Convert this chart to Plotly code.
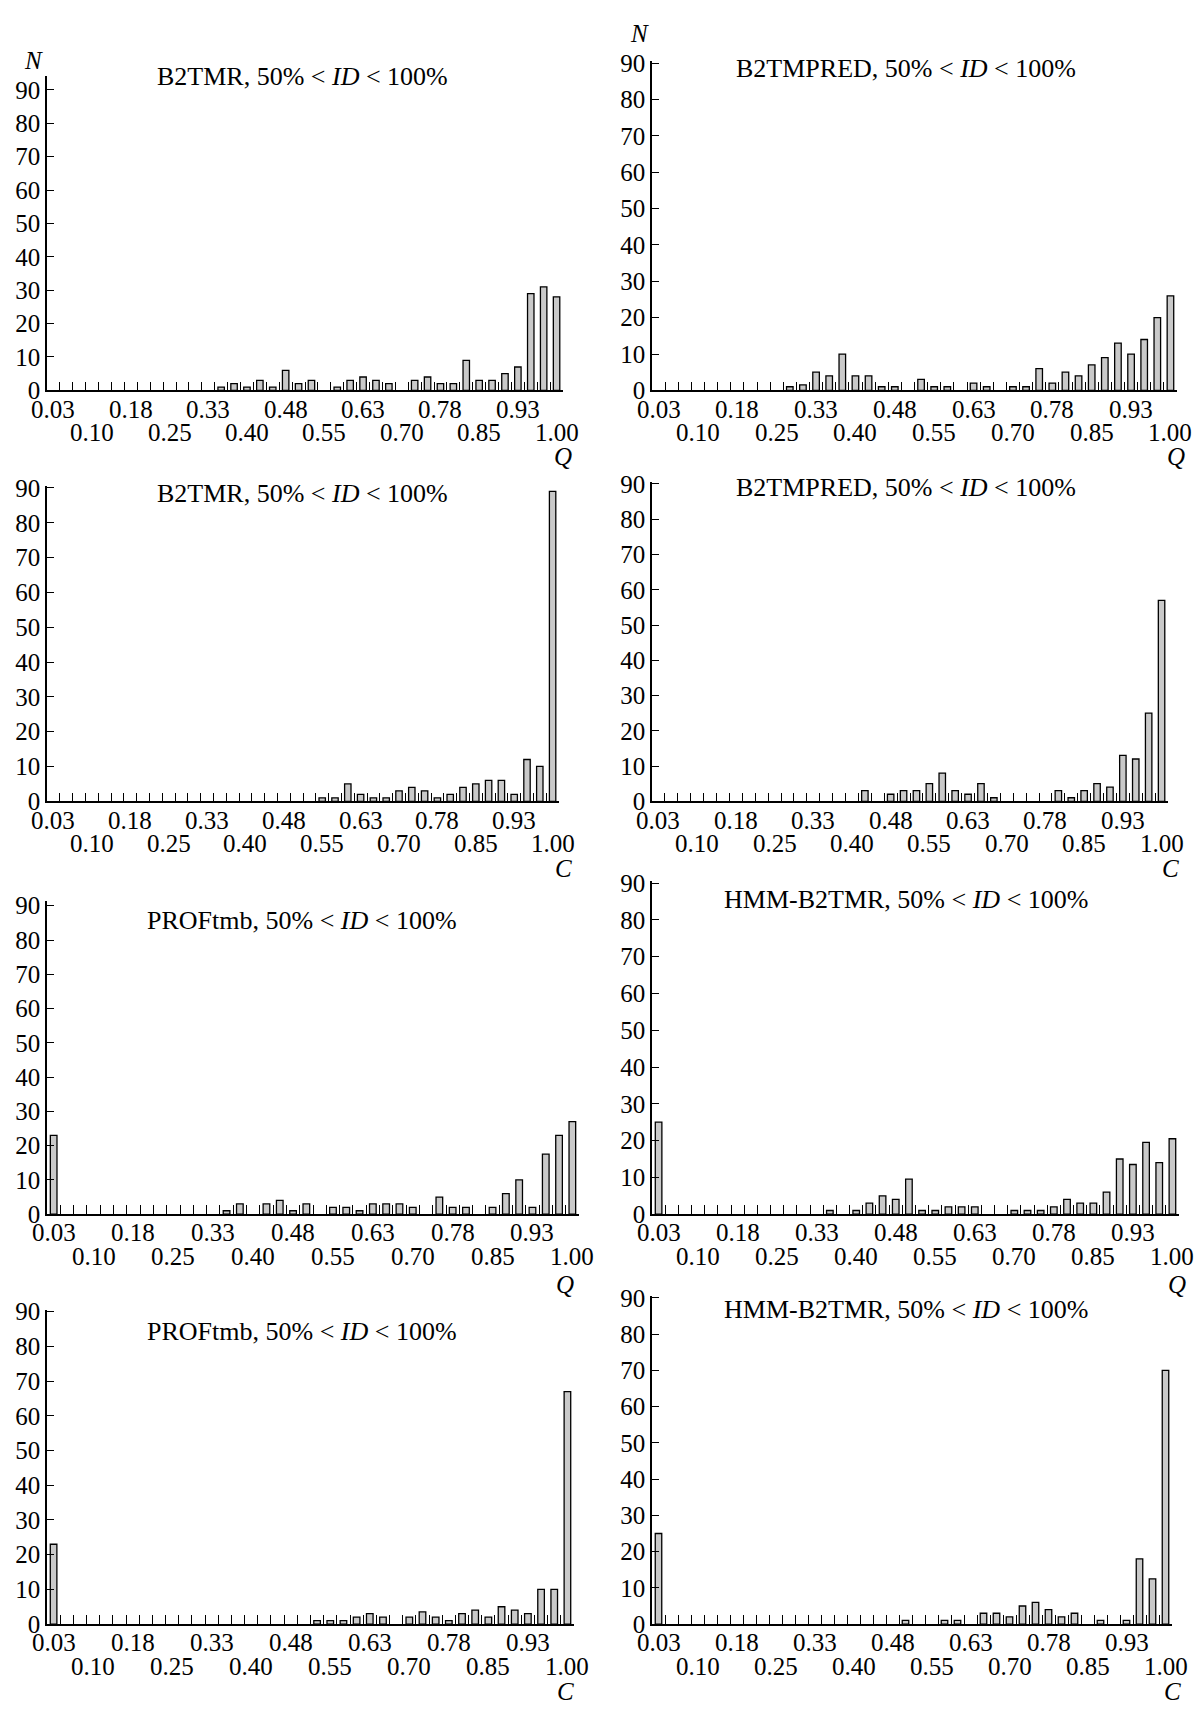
import plotly.graph_objects as go

FONT = "Liberation Serif"
W, H = 1196, 1712

# ---------------- data ----------------
n_bins = 40
bin_centers = [round(0.03 + 0.025 * k, 4) for k in range(n_bins)]
upper_tick_labels = ["0.03", "0.18", "0.33", "0.48", "0.63", "0.78", "0.93"]
lower_tick_labels = ["0.10", "0.25", "0.40", "0.55", "0.70", "0.85", "1.00"]
y_tick_values = [0, 10, 20, 30, 40, 50, 60, 70, 80, 90]

b2tmr_q = [0, 0, 0, 0, 0, 0, 0, 0, 0, 0,
           0, 0, 0, 1, 2, 1, 3, 1, 6, 2,
           3, 0, 1, 3, 4, 3, 2, 0, 3, 4,
           2, 2, 9, 3, 3, 5, 7, 29, 31, 28]
b2tmpred_q = [0, 0, 0, 0, 0, 0, 0, 0, 0, 0,
              1, 1.5, 5, 4, 10, 4, 4, 1, 1, 0,
              3, 1, 1, 0, 2, 1, 0, 1, 1, 6,
              2, 5, 4, 7, 9, 13, 10, 14, 20, 26]
b2tmr_c = [0, 0, 0, 0, 0, 0, 0, 0, 0, 0,
           0, 0, 0, 0, 0, 0, 0, 0, 0, 0,
           0, 1, 1, 5, 2, 1, 1, 3, 4, 3,
           1, 2, 4, 5, 6, 6, 2, 12, 10, 89]
b2tmpred_c = [0, 0, 0, 0, 0, 0, 0, 0, 0, 0,
              0, 0, 0, 0, 0, 0, 3, 0, 2, 3,
              3, 5, 8, 3, 2, 5, 1, 0, 0, 0,
              0, 3, 1, 3, 5, 4, 13, 12, 25, 57]
proftmb_q = [23, 0, 0, 0, 0, 0, 0, 0, 0, 0,
             0, 0, 0, 1, 3, 0, 3, 4, 1, 3,
             0, 2, 2, 1, 3, 3, 3, 2, 0, 5,
             2, 2, 0, 2, 6, 10, 2, 17.5, 23, 27]
hmm_b2tmr_q = [25, 0, 0, 0, 0, 0, 0, 0, 0, 0,
               0, 0, 0, 1, 0, 1, 3, 5, 4, 9.5,
               1, 1, 2, 2, 2, 0, 0, 1, 1, 1,
               2, 4, 3, 3, 6, 15, 13.5, 19.5, 14, 20.5]
proftmb_c = [23, 0, 0, 0, 0, 0, 0, 0, 0, 0,
             0, 0, 0, 0, 0, 0, 0, 0, 0, 0,
             1, 1, 1, 2, 3, 2, 0, 2, 3.5, 2,
             1, 3, 4, 2, 5, 4, 3, 10, 10, 67]
hmm_b2tmr_c = [25, 0, 0, 0, 0, 0, 0, 0, 0, 0,
               0, 0, 0, 0, 0, 0, 0, 0, 0, 1,
               0, 0, 1, 1, 0, 3, 3, 2, 5, 6,
               4, 2, 3, 0, 1, 0, 1, 18, 12.5, 70]

titles = ["B2TMR, 50% &lt; <i>ID</i> &lt; 100%", "B2TMPRED, 50% &lt; <i>ID</i> &lt; 100%",
          "B2TMR, 50% &lt; <i>ID</i> &lt; 100%", "B2TMPRED, 50% &lt; <i>ID</i> &lt; 100%",
          "PROFtmb, 50% &lt; <i>ID</i> &lt; 100%", "HMM-B2TMR, 50% &lt; <i>ID</i> &lt; 100%",
          "PROFtmb, 50% &lt; <i>ID</i> &lt; 100%", "HMM-B2TMR, 50% &lt; <i>ID</i> &lt; 100%"]
series = [b2tmr_q, b2tmpred_q, b2tmr_c, b2tmpred_c,
          proftmb_q, hmm_b2tmr_q, proftmb_c, hmm_b2tmr_c]
x_names = ["Q", "Q", "C", "C", "Q", "Q", "C", "C"]

# ---------------- layout geometry (pixels) ----------------
# (x_left, x_right, y_at_90, y_at_0, y_max)
geom = [(47, 563, 80, 385, 94), (652, 1177, 53, 385, 90.5),
        (47, 559, 484, 802, 90.5), (652, 1168, 480, 802, 90.5),
        (47, 579, 908, 1221, 91.5), (652, 1179, 885, 1221, 90.5),
        (47, 574, 1320, 1637, 90.5), (652, 1172, 1306, 1637, 90.5)]
title_pos = [(302, 66), (906, 58), (302, 490), (906, 484),
             (302, 923), (906, 902), (302, 1340), (906, 1318)]
xname_pos = [(563, 452), (1176, 452), (563, 870), (1170, 870),
             (565, 1292), (1177, 1292), (565, 1705), (1172, 1705)]
n_pos = [(33, 50), (639, 23)]
lab_off_upper, lab_off_lower = 19, 43


def px(x):
    return x / W


def py(y):
    return 1 - y / H


fig = go.Figure()
layout = dict(width=W, height=H, margin=dict(l=0, r=0, t=0, b=0),
              paper_bgcolor="white", plot_bgcolor="white", showlegend=False,
              font=dict(family=FONT, color="black", size=25))
annotations = []

x_lo = bin_centers[0] - 0.0125
x_hi = bin_centers[-1] + 0.0125
edges = [round(bin_centers[k] + 0.0125, 4) for k in range(n_bins)]
label_centers = bin_centers[::3]

for i, (vals, (x0, x1, y90, y0, ymax)) in enumerate(zip(series, geom)):
    idx = "" if i == 0 else str(i + 1)
    ppu = (y0 - y90) / 90.0
    ytop = y0 - ymax * ppu
    xs = [c for c, v in zip(bin_centers, vals) if v > 0]
    ys = [v for v in vals if v > 0]
    fig.add_trace(go.Bar(x=xs, y=ys, width=0.0125, xaxis="x" + idx, yaxis="y" + idx,
                         marker=dict(color="#c9c9c9", line=dict(color="black", width=1.3))))
    layout["xaxis" + idx] = dict(domain=[px(x0), px(x1)], anchor="y" + idx,
                                 range=[x_lo, x_hi], tickvals=edges, ticks="inside",
                                 ticklen=9, tickwidth=1.2, tickcolor="black",
                                 showticklabels=False, showline=True, linecolor="black",
                                 linewidth=1.5, showgrid=False, zeroline=False)
    layout["yaxis" + idx] = dict(domain=[py(y0), py(ytop)], anchor="x" + idx,
                                 range=[0, ymax], tickvals=y_tick_values, ticks="inside",
                                 ticklen=7, tickwidth=1.2, tickcolor="black",
                                 showline=True, linecolor="black", linewidth=1.5,
                                 showgrid=False, zeroline=False,
                                 tickfont=dict(family=FONT, size=25, color="black"))
    for j, c in enumerate(label_centers):
        txt = upper_tick_labels[j // 2] if j % 2 == 0 else lower_tick_labels[j // 2]
        off = lab_off_upper if j % 2 == 0 else lab_off_lower
        annotations.append(dict(x=c, y=py(y0 + off), xref="x" + idx, yref="paper",
                                text=txt, showarrow=False, xanchor="center",
                                yanchor="middle", font=dict(family=FONT, size=25)))
    tx, ty = title_pos[i]
    annotations.append(dict(x=px(tx), y=py(ty), xref="paper", yref="paper",
                            text=titles[i], showarrow=False, xanchor="center",
                            yanchor="middle", font=dict(family=FONT, size=26)))
    nx, ny = xname_pos[i]
    annotations.append(dict(x=px(nx), y=py(ny), xref="paper", yref="paper",
                            text="<i>" + x_names[i] + "</i>", showarrow=False,
                            xanchor="center", yanchor="middle",
                            font=dict(family=FONT, size=25)))

for (nx, ny) in n_pos:
    annotations.append(dict(x=px(nx), y=py(ny), xref="paper", yref="paper",
                            text="<i>N</i>", showarrow=False, xanchor="center",
                            yanchor="middle", font=dict(family=FONT, size=25)))

layout["annotations"] = annotations
fig.update_layout(**layout)
fig.write_html("out.html")
